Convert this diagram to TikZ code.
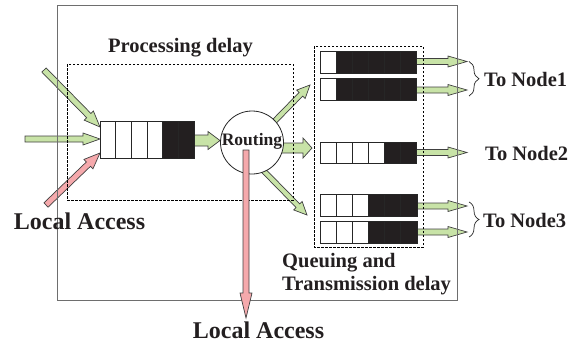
\documentclass[tikz,border=0pt]{standalone}
\usepackage{fontspec}
\setmainfont{Liberation Serif}
\usetikzlibrary{calc,decorations.pathreplacing}
\definecolor{agreen}{HTML}{C8E3A7}
\definecolor{apink}{HTML}{F5A9AC}
\definecolor{qblack}{HTML}{231F20}
\definecolor{framegray}{HTML}{6E6E6E}
\tikzset{
 greenarrow/.style={fill=agreen, draw=black!75, line width=0.7pt, line join=miter},
 pinkarrow/.style={fill=apink, draw=black!75, line width=0.7pt, line join=miter},
 qbox/.style={fill=white, inner sep=0pt, outer sep=0pt, anchor=north west},
 qline/.style={draw=black!85, line width=0.8pt},
 dashbox/.style={draw=black, line width=0.6pt, dash pattern=on 2.5pt off 1.5pt},
 framebox/.style={draw=framegray, line width=1pt},
 bracestyle/.style={draw=black!85, line width=0.7pt, decorate, decoration={brace, amplitude=10pt}},
 lbl/.style={font=\bfseries\fontsize{20.5}{24}\selectfont, inner sep=0pt, text=qblack},
 biglbl/.style={font=\bfseries\fontsize{24}{28}\selectfont, inner sep=0pt, text=qblack},
}
% fat arrow: style, from, to, shaft half width, head half width, head length
\newcommand\fatarrow[6]{%
 \draw[#1] let \p1=($(#3)-(#2)$), \n1={atan2(\y1,\x1)}, \n2={veclen(\x1,\y1)} in
  ($(#2)+({\n1+90}:#4)$) -- ($(#2)+(\n1:{\n2-#6})+({\n1+90}:#4)$)
  -- ($(#2)+(\n1:{\n2-#6})+({\n1+90}:#5)$) -- (#3)
  -- ($(#2)+(\n1:{\n2-#6})+({\n1-90}:#5)$) -- ($(#2)+(\n1:{\n2-#6})+({\n1-90}:#4)$)
  -- ($(#2)+({\n1-90}:#4)$) -- cycle;}
% queue: name, x, y, width, height, white cells (of 6)
\newcommand\queue[6]{%
 \node[qbox, minimum width=#4pt, minimum height=#5pt] (#1) at (#2,#3) {};
 \fill[qblack] ($(#1.north west)!{#6/6}!(#1.north east)$) rectangle (#1.south east);
 \foreach \k in {1,...,5}
  \draw[qline] ($(#1.north west)!{\k/6}!(#1.north east)$) -- ($(#1.south west)!{\k/6}!(#1.south east)$);
 \draw[qline] (#1.north west) rectangle (#1.south east);}
\begin{document}
\begin{tikzpicture}[x=1pt,y=-1pt]
\useasboundingbox (0,0) rectangle (571,346);
% end points
\coordinate (in1) at (44,70);
\coordinate (in2) at (25,139);
\coordinate (in3) at (46,205);
\coordinate (t1) at (100,127);
\coordinate (t2) at (100,139);
\coordinate (t3) at (100,153);
\coordinate (rc) at (252,142.5);
\coordinate (qr) at (190,140.5);
\coordinate (rin) at (220,140.5);
\coordinate (rU0) at (262,134);
\coordinate (rU) at (310,85);
\coordinate (rR0) at (260,148);
\coordinate (rR) at (312,148);
\coordinate (rD0) at (255,162);
\coordinate (rD) at (307,215);
\coordinate (rB0) at (246,150);
\coordinate (rB) at (246,318);
\coordinate (o1) at (467,61.5);
\coordinate (o2) at (467,90);
\coordinate (o3) at (467,152.5);
\coordinate (o4) at (467,206);
\coordinate (o5) at (467,232);
\coordinate (s1) at (410,61.5);
\coordinate (s2) at (410,90);
\coordinate (s3) at (410,152.5);
\coordinate (s4) at (410,206);
\coordinate (s5) at (410,232);
% arrows
\fatarrow{greenarrow}{in1}{t1}{3pt}{6.5pt}{16pt}
\fatarrow{greenarrow}{in2}{t2}{3pt}{6pt}{17pt}
\fatarrow{pinkarrow}{in3}{t3}{3pt}{6.5pt}{16pt}
\fatarrow{greenarrow}{qr}{rin}{5.5pt}{9pt}{12pt}
\fatarrow{greenarrow}{rU0}{rU}{2.6pt}{6pt}{13pt}
\fatarrow{greenarrow}{rR0}{rR}{5pt}{10pt}{9pt}
\fatarrow{greenarrow}{rD0}{rD}{2.6pt}{6pt}{13pt}
\foreach \i in {1,...,5}{\fatarrow{greenarrow}{s\i}{o\i}{3pt}{5.5pt}{19pt}}
% queues
\queue{qin}{100}{121}{94}{37}{4}
\queue{q1}{320}{51}{96}{22}{1}
\queue{q2}{320}{78}{96}{22}{1}
\queue{q3}{320}{142}{96}{21}{4}
\queue{q4}{320}{194}{97}{22}{3}
\queue{q5}{320}{221}{97}{22}{3}
% routing
\node[circle, draw=black!85, line width=0.8pt, fill=white, minimum size=63pt, inner sep=0pt] (rt) at (rc) {};
\node[inner sep=0pt, font=\bfseries\fontsize{17.5}{20}\selectfont, text=qblack] (rtl) at (252,141.5) {Routing};
% boxes
\draw[dashbox] (67,64) rectangle (293,200);
\draw[dashbox] (314,46) rectangle (423,247);
\draw[framebox] (57,5) rectangle (457,300);
\fatarrow{pinkarrow}{rB0}{rB}{3pt}{6pt}{25pt}
% braces
\draw[bracestyle] (469,61.5) -- (469,96);
\draw[bracestyle] (469,202) -- (469,237);
% labels
\node[lbl] (pd) at (180.5,48) {Processing delay};
\node[biglbl] (la1) at (79.5,221) {Local Access};
\node[biglbl] (la2) at (258.5,330.5) {Local Access};
\node[lbl, anchor=base west] (qa) at (282,267) {Queuing and};
\node[lbl, anchor=base west] (td) at (282,290) {Transmission delay};
\node[lbl, anchor=west] (n1) at (484,79) {To Node1};
\node[lbl, anchor=west] (n2) at (485,153) {To Node2};
\node[lbl, anchor=west] (n3) at (483,220) {To Node3};
\end{tikzpicture}
\end{document}
